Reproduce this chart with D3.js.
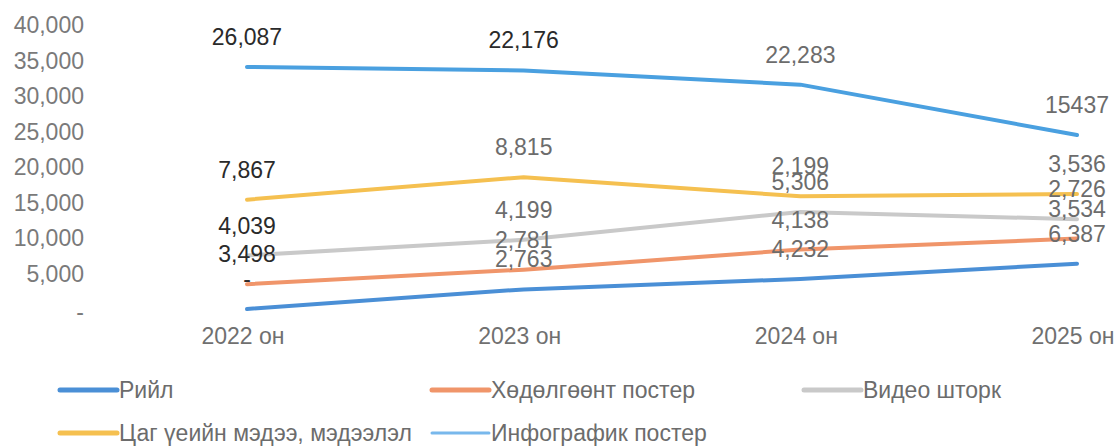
<!DOCTYPE html>
<html>
<head>
<meta charset="utf-8">
<script src="https://cdn.jsdelivr.net/npm/d3@7"></script>
<style>
  body { margin: 0; background: #fff; }
  text { font-family: "Liberation Sans", Arial, sans-serif; }
</style>
</head>
<body>
<div id="chart"></div>
<script>
(function() {

    var width = 1119;
    var height = 446;

    // categories and values (stacked series, as labelled)
    var years = ["2022 он", "2023 он", "2024 он", "2025 он"];
    var reel = [0, 2763, 4232, 6387];
    var motionPoster = [3498, 2781, 4138, 3534];
    var videoShtork = [4039, 4199, 5306, 2726];
    var newsInfo = [7867, 8815, 2199, 3536];
    // infographic: labelled values and the level its line sits at in the picture
    var infographic = [26087, 22176, 22283, 15437];
    var infographicLevel = [34100, 33600, 31600, 24500];
    var infographicText = ["26,087", "22,176", "22,283", "15437"];

    var yTicks = [0, 5000, 10000, 15000, 20000, 25000, 30000, 35000, 40000];

    var names = ["Рийл", "Хөдөлгөөнт постер", "Видео шторк", "Цаг үеийн мэдээ, мэдээлэл", "Инфографик постер"];
    var colors = ["#4a8fd6", "#f0956a", "#c9c9c9", "#f5c050", "#4aa0e0"];
    var legendColors = ["#4a8fd6", "#f0956a", "#c9c9c9", "#f5c050", "#78b8ec"];

    var svg = d3.select("#chart")
        .append("svg")
        .attr("width", width)
        .attr("height", height);

    var x = d3.scalePoint().domain(years).range([247, 1077]);
    var y = d3.scaleLinear().domain([0, 40000]).range([309, 25]);

    var fmt = d3.format(",");

    // y axis labels only
    svg.append("g")
        .selectAll("text")
        .data(yTicks)
        .enter().append("text")
        .attr("x", 84)
        .attr("y", d => y(d) + (d === 0 ? 3 : 0))
        .attr("dy", "0.35em")
        .attr("text-anchor", "end")
        .attr("font-size", 23)
        .attr("fill", "#7a7a7a")
        .text(d => d === 0 ? "-" : fmt(d));

    // x axis labels
    svg.append("g")
        .selectAll("text")
        .data(years)
        .enter().append("text")
        .attr("x", d => x(d) - 4)
        .attr("y", 336)
        .attr("dy", "0.35em")
        .attr("text-anchor", "middle")
        .attr("font-size", 23)
        .attr("fill", "#707070")
        .text(d => d);

    // stack the first four series
    var table = years.map(function(yr, i) {
        return { year: yr, s0: reel[i], s1: motionPoster[i], s2: videoShtork[i], s3: newsInfo[i] };
    });
    var stacked = d3.stack().keys(["s0", "s1", "s2", "s3"])(table);

    var series = stacked.map(function(layer, k) {
        return layer.map(function(p, i) {
            return { year: years[i], top: p[1], value: p[1] - p[0] };
        });
    });
    series.push(years.map(function(yr, i) {
        return { year: yr, top: infographicLevel[i], value: infographic[i] };
    }));

    var line = d3.line()
        .x(d => x(d.year))
        .y(d => y(d.top));

    svg.append("g")
        .selectAll("path")
        .data(series)
        .enter().append("path")
        .attr("d", line)
        .attr("fill", "none")
        .attr("stroke", (d, i) => colors[i])
        .attr("stroke-width", 4)
        .attr("stroke-linejoin", "round")
        .attr("stroke-linecap", "round");

    // data labels, 30px above each point
    series.forEach(function(s, k) {
        svg.append("g")
            .selectAll("text")
            .data(s)
            .enter().append("text")
            .attr("x", d => x(d.year))
            .attr("y", d => y(d.top) - 30)
            .attr("dy", "0.35em")
            .attr("text-anchor", "middle")
            .attr("font-size", 23)
            .attr("fill", (d, i) => (i === 0 || (k === 4 && i === 1)) ? "#2a2a2a" : "#6c6c6c")
            .text((d, i) => k === 4 ? infographicText[i] : (d.value === 0 ? "-" : fmt(d.value)));
    });

    // legend
    var legendPos = [[60, 390], [432, 390], [804, 390], [60, 433], [432, 433]];
    var legend = svg.append("g")
        .selectAll("g")
        .data(names)
        .enter().append("g")
        .attr("transform", (d, i) => "translate(" + legendPos[i][0] + "," + legendPos[i][1] + ")");

    legend.append("line")
        .attr("x1", 0)
        .attr("x2", 57)
        .attr("stroke", (d, i) => legendColors[i])
        .attr("stroke-width", (d, i) => i === 4 ? 3 : 5)
        .attr("stroke-linecap", "round");

    legend.append("text")
        .attr("x", 59)
        .attr("dy", "0.35em")
        .attr("font-size", 23)
        .attr("fill", "#6c6c6c")
        .text(d => d);

})();
</script>
</body>
</html>
